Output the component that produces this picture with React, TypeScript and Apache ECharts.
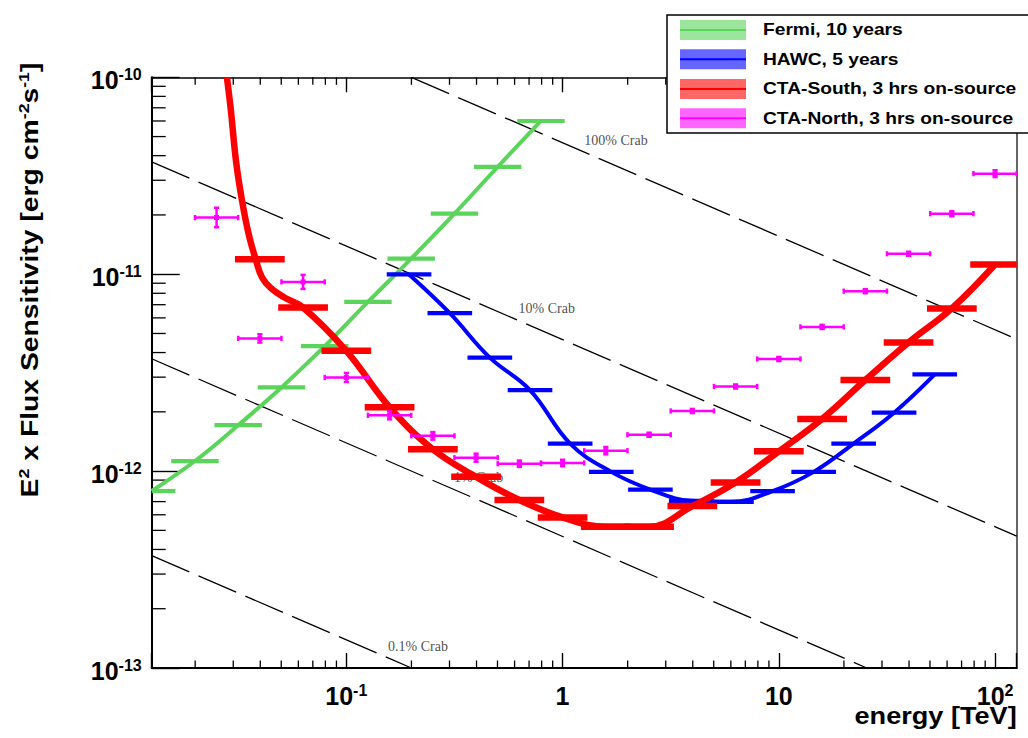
import React, { useEffect, useRef } from 'react';
import * as echarts from 'echarts';

// ---- axis ranges (log scale) ----
const X_MIN = 0.012589;
const X_MAX = 125.89;
const Y_MIN = 1e-13;
const Y_MAX = 1e-10;

// ---- Fermi, 10 years ----
const fermiEnergy = [0.01259, 0.01995, 0.03162, 0.05012, 0.07943, 0.1259, 0.1995, 0.3162, 0.5012, 0.7943];
const fermiSens = [7.92e-13, 1.125e-12, 1.71e-12, 2.66e-12, 4.31e-12, 7.23e-12, 1.2e-11, 2.03e-11, 3.51e-11, 6.0e-11];

// ---- HAWC, 5 years ----
const hawcEnergy = [0.195, 0.301, 0.461, 0.707, 1.084, 1.679, 2.547, 3.936, 6.039, 9.354, 14.49, 22.18, 34.12, 52.6];
const hawcSens = [9.97e-12, 6.34e-12, 3.77e-12, 2.58e-12, 1.38e-12, 9.91e-13, 8.06e-13, 7.06e-13, 6.98e-13, 7.91e-13, 9.91e-13, 1.38e-12, 1.98e-12, 3.1e-12];

// ---- CTA-South, 3 hrs ----
const ctaSouthEnergy = [0.03981, 0.0631, 0.1, 0.1585, 0.2512, 0.3981, 0.631, 1, 1.585, 2.512, 3.981, 6.31, 10, 15.85, 25.12, 39.81, 63.1, 100];
const ctaSouthSens = [1.19e-11, 6.78e-12, 4.08e-12, 2.11e-12, 1.29e-12, 9.35e-13, 7.13e-13, 5.82e-13, 5.21e-13, 5.21e-13, 6.64e-13, 8.75e-13, 1.26e-12, 1.84e-12, 2.9e-12, 4.5e-12, 6.7e-12, 1.12e-11];
// low-energy rise of the CTA-South curve (before the second bin)
const ctaSouthLeadEnergy = [0.02804, 0.02925, 0.03086, 0.0329, 0.03543, 0.03819, 0.04072, 0.04481, 0.05146];
const ctaSouthLeadSens = [1e-10, 6.8e-11, 3.79e-11, 2.38e-11, 1.58e-11, 1.18e-11, 9.66e-12, 8.49e-12, 7.64e-12];

// ---- CTA-North, 3 hrs ----
const ctaNorthEnergy = [0.02512, 0.03981, 0.0631, 0.1, 0.1585, 0.2512, 0.3981, 0.631, 1, 1.585, 2.512, 3.981, 6.31, 10, 15.85, 25.12, 39.81, 63.1, 100];
const ctaNorthSens = [1.94e-11, 4.72e-12, 9.14e-12, 2.99e-12, 1.92e-12, 1.51e-12, 1.17e-12, 1.09e-12, 1.1e-12, 1.27e-12, 1.53e-12, 2.02e-12, 2.69e-12, 3.71e-12, 5.4e-12, 8.2e-12, 1.27e-11, 2.03e-11, 3.24e-11];
const ctaNorthRelErr = [0.12, 0.05, 0.085, 0.054, 0.048, 0.045, 0.048, 0.038, 0.038, 0.044, 0.024, 0.024, 0.024, 0.024, 0.024, 0.024, 0.024, 0.03, 0.04];

// ---- Crab reference lines ----
const crabNames = ['100% Crab', '10% Crab', '1% Crab', '0.1% Crab'];
const crabLineEnergy = [[0.2, 125.89], [0.012589, 125.89], [0.012589, 25.5], [0.012589, 0.2]];
const crabLineSens = [[1e-10, 4.68e-12], [3.72e-11, 4.68e-13], [3.72e-12, 1e-13], [3.72e-13, 1e-13]];
const crabLabelEnergy = [1.767, 0.845, 0.409, 0.2144];
const crabLabelSens = [4.75e-11, 6.7e-12, 9.25e-13, 1.28e-13];

// ---- bin half-widths (decades) ----
const FERMI_HALF = 0.1;
const HAWC_HALF = 0.0935;
const CTA_HALF = 0.1;

const legendNames = ['Fermi, 10 years', 'HAWC, 5 years', 'CTA-South, 3 hrs on-source', 'CTA-North, 3 hrs on-source'];
const GREEN = '#5ad45a';
const BLUE = '#0000ff';
const RED = '#ff0000';
const MAGENTA = '#ff00ff';
const legendColors = [GREEN, BLUE, RED, MAGENTA];

const SANS = '"Liberation Sans", Arial, Helvetica, sans-serif';
const SERIF = '"Liberation Serif", "Times New Roman", serif';

// minor tick positions of the log axes (2..9 x 10^n)
const xMinorTicks: number[] = [];
for (let n = -2; n <= 2; n++) for (let k = 2; k <= 9; k++) {
  const v = k * Math.pow(10, n);
  if (v > X_MIN && v < X_MAX) xMinorTicks.push(v);
}
const yMinorTicks: number[] = [];
for (let n = -13; n <= -11; n++) for (let k = 2; k <= 9; k++) yMinorTicks.push(k * Math.pow(10, n));

const zip = (a: number[], b: number[]) => a.map((v, i) => [v, b[i]]);

function barRenderer(color: string, width: number, halfDec: number) {
  const f = Math.pow(10, halfDec);
  return (params: any, api: any) => {
    const e = api.value(0);
    const s = api.value(1);
    const cs = params.coordSys;
    const a = api.coord([e / f, s]);
    const b = api.coord([e * f, s]);
    let x1 = a[0];
    let x2 = b[0];
    if (x1 < cs.x) x1 = cs.x + width / 2;
    if (x2 > cs.x + cs.width) x2 = cs.x + cs.width - width / 2;
    return {
      type: 'line',
      shape: { x1, y1: a[1], x2, y2: a[1] },
      style: { stroke: color, lineWidth: width, lineCap: 'square' },
    };
  };
}

function northRenderer(params: any, api: any) {
  const e = api.value(0);
  const s = api.value(1);
  const r = api.value(2);
  const f = Math.pow(10, CTA_HALF);
  const c = api.coord([e, s]);
  const a = api.coord([e / f, s]);
  const b = api.coord([e * f, s]);
  const lo = api.coord([e, s / (1 + r)]);
  const hi = api.coord([e, s * (1 + r)]);
  const st = { stroke: MAGENTA, lineWidth: 2.5 };
  const cap = 2.6;
  return {
    type: 'group',
    children: [
      { type: 'line', shape: { x1: a[0], y1: c[1], x2: b[0], y2: c[1] }, style: st },
      { type: 'line', shape: { x1: a[0], y1: c[1] - cap, x2: a[0], y2: c[1] + cap }, style: st },
      { type: 'line', shape: { x1: b[0], y1: c[1] - cap, x2: b[0], y2: c[1] + cap }, style: st },
      { type: 'line', shape: { x1: c[0], y1: lo[1], x2: c[0], y2: hi[1] }, style: st },
      { type: 'line', shape: { x1: c[0] - cap, y1: lo[1], x2: c[0] + cap, y2: lo[1] }, style: st },
      { type: 'line', shape: { x1: c[0] - cap, y1: hi[1], x2: c[0] + cap, y2: hi[1] }, style: st },
      { type: 'rect', shape: { x: c[0] - 2.5, y: c[1] - 2.5, width: 5, height: 5 }, style: { fill: MAGENTA } },
    ],
  };
}

function xMinorRenderer(params: any, api: any) {
  const v = api.value(0);
  const b = api.coord([v, Y_MIN]);
  const t = api.coord([v, Y_MAX]);
  const st = { stroke: '#000', lineWidth: 1.3 };
  return {
    type: 'group',
    children: [
      { type: 'line', shape: { x1: b[0], y1: b[1], x2: b[0], y2: b[1] - 7.5 }, style: st },
      { type: 'line', shape: { x1: t[0], y1: t[1], x2: t[0], y2: t[1] + 7.5 }, style: st },
    ],
  };
}

function yMinorRenderer(params: any, api: any) {
  const v = api.value(1);
  const p = api.coord([X_MIN, v]);
  return {
    type: 'line',
    shape: { x1: p[0], y1: p[1], x2: p[0] + 14, y2: p[1] },
    style: { stroke: '#000', lineWidth: 1.3 },
  };
}

const isPow10 = (v: number) => Math.abs(Math.log10(v) - Math.round(Math.log10(v))) < 1e-6;

const tickRich = {
  b: { fontSize: 25, fontWeight: 'bold', fontFamily: SANS, color: '#000', lineHeight: 27 },
  s: { fontSize: 16, fontWeight: 'bold', fontFamily: SANS, color: '#000', lineHeight: 18, verticalAlign: 'top' },
};

const xFmt = (v: number) => {
  if (!isPow10(v)) return '';
  const e = Math.round(Math.log10(v));
  if (e === 0) return '{b|1}';
  if (e === 1) return '{b|10}';
  return `{b|10}{s|${e}}`;
};
const yFmt = (v: number) => {
  if (!isPow10(v)) return '';
  const e = Math.round(Math.log10(v));
  return `{b|10}{s|${e}}`;
};

export default function App() {
  const ref = useRef<HTMLDivElement>(null);

  useEffect(() => {
    if (!ref.current) return;
    const chart = echarts.init(ref.current, undefined, { renderer: 'svg' });

    const legendGraphics: any[] = [
      {
        type: 'rect',
        shape: { x: 667, y: 15, width: 420, height: 118 },
        style: { fill: '#fff', stroke: '#000', lineWidth: 1.5 },
        z: 100,
      },
    ];
    const legendY = [30, 59.3, 89, 118.3];
    legendNames.forEach((name, i) => {
      legendGraphics.push({
        type: 'rect',
        shape: { x: 680, y: legendY[i] - 10, width: 66, height: 20 },
        style: { fill: legendColors[i], opacity: 0.6 },
        z: 101,
      });
      legendGraphics.push({
        type: 'line',
        shape: { x1: 680, y1: legendY[i], x2: 746, y2: legendY[i] },
        style: { stroke: legendColors[i], lineWidth: 2 },
        z: 102,
      });
      legendGraphics.push({
        type: 'text',
        x: 763,
        y: legendY[i],
        scaleX: 1.2,
        style: {
          text: name,
          fontFamily: SANS,
          fontWeight: 'bold',
          fontSize: 16,
          fill: '#000',
          align: 'left',
          verticalAlign: 'middle',
        },
        z: 102,
      });
    });

    const option: any = {
      animation: false,
      backgroundColor: '#fff',
      grid: {
        left: 151.7,
        right: 11.3,
        top: 77.3,
        bottom: 70,
        containLabel: false,
        outerBoundsMode: 'none',
        show: false,
      },
      xAxis: [
        {
          type: 'log',
          logBase: 10,
          min: X_MIN,
          max: X_MAX,
          position: 'bottom',
          axisLine: { show: true, lineStyle: { color: '#000', width: 2 } },
          axisTick: { show: true, inside: true, length: 15, lineStyle: { color: '#000', width: 1.4 } },
          axisLabel: { show: true, formatter: xFmt, rich: tickRich, margin: 14 },
          splitLine: { show: false },
          minorTick: { show: false },
        },
        {
          type: 'log',
          logBase: 10,
          min: X_MIN,
          max: X_MAX,
          position: 'top',
          axisLine: { show: true, lineStyle: { color: '#000', width: 1.5 } },
          axisTick: { show: true, inside: true, length: 15, lineStyle: { color: '#000', width: 1.4 } },
          axisLabel: { show: false },
          splitLine: { show: false },
        },
      ],
      yAxis: [
        {
          type: 'log',
          logBase: 10,
          min: Y_MIN,
          max: Y_MAX,
          position: 'left',
          axisLine: { show: true, lineStyle: { color: '#000', width: 2 } },
          axisTick: { show: true, inside: true, length: 28, lineStyle: { color: '#000', width: 1.4 } },
          axisLabel: { show: true, formatter: yFmt, rich: tickRich, margin: 10, padding: [6, 0, 0, 0] },
          splitLine: { show: false },
          minorTick: { show: false },
        },
        {
          type: 'log',
          logBase: 10,
          min: Y_MIN,
          max: Y_MAX,
          position: 'right',
          axisLine: { show: true, lineStyle: { color: '#333', width: 1.5 } },
          axisTick: { show: false },
          axisLabel: { show: false },
          splitLine: { show: false },
        },
      ],
      graphic: [
        {
          type: 'text',
          x: 30,
          y: 280,
          rotation: Math.PI / 2,
          scaleX: 1.18,
          style: {
            text: '{b|E}{s|2}{b| x Flux Sensitivity [erg cm}{s|-2}{b|s}{s|-1}{b|]}',
            rich: {
              b: { fontSize: 24, fontWeight: 'bold', fontFamily: SANS, fill: '#000', lineHeight: 28 },
              s: { fontSize: 15, fontWeight: 'bold', fontFamily: SANS, fill: '#000', lineHeight: 17, verticalAlign: 'top' },
            },
            align: 'center',
            verticalAlign: 'middle',
          },
        },
        {
          type: 'text',
          x: 1016.7,
          y: 716,
          scaleX: 1.13,
          style: {
            text: 'energy [TeV]',
            fontFamily: SANS,
            fontWeight: 'bold',
            fontSize: 24,
            fill: '#000',
            align: 'right',
            verticalAlign: 'middle',
          },
        },
        ...legendGraphics,
      ],
      series: [
        // minor ticks
        {
          type: 'custom',
          silent: true,
          renderItem: xMinorRenderer,
          data: xMinorTicks.map((v) => [v, 1e-12]),
          z: 1,
        },
        {
          type: 'custom',
          silent: true,
          renderItem: yMinorRenderer,
          data: yMinorTicks.map((v) => [1, v]),
          z: 1,
        },
        // Crab reference lines
        ...crabNames.map((name, i) => ({
          type: 'line',
          name,
          silent: true,
          symbol: 'none',
          data: zip(crabLineEnergy[i], crabLineSens[i]),
          lineStyle: { color: '#000', width: 1.3, type: [41, 10] },
          z: 2,
        })),
        {
          type: 'scatter',
          silent: true,
          symbolSize: 1,
          itemStyle: { color: 'transparent' },
          data: crabNames.map((n, i) => ({ name: n, value: [crabLabelEnergy[i], crabLabelSens[i]] })),
          label: {
            show: true,
            position: 'inside',
            formatter: '{b}',
            color: '#222',
            fontFamily: SERIF,
            fontSize: 14,
          },
          z: 2,
        },
        // Fermi
        {
          type: 'line',
          name: legendNames[0],
          symbol: 'none',
          smooth: 0.4,
          data: zip(fermiEnergy, fermiSens),
          lineStyle: { color: GREEN, width: 4 },
          z: 3,
        },
        {
          type: 'custom',
          clip: true,
          renderItem: barRenderer(GREEN, 4.2, FERMI_HALF),
          data: zip(fermiEnergy, fermiSens),
          z: 3,
        },
        // HAWC
        {
          type: 'line',
          name: legendNames[1],
          symbol: 'none',
          smooth: 0.4,
          data: zip(hawcEnergy, hawcSens),
          lineStyle: { color: BLUE, width: 4 },
          z: 4,
        },
        {
          type: 'custom',
          clip: true,
          renderItem: barRenderer(BLUE, 4.2, HAWC_HALF),
          data: zip(hawcEnergy, hawcSens),
          z: 4,
        },
        // CTA-South
        {
          type: 'line',
          name: legendNames[2],
          symbol: 'none',
          smooth: 0.4,
          data: zip(ctaSouthLeadEnergy, ctaSouthLeadSens).concat(zip(ctaSouthEnergy, ctaSouthSens).slice(1)),
          lineStyle: { color: RED, width: 6.5 },
          z: 5,
        },
        {
          type: 'custom',
          clip: true,
          renderItem: barRenderer(RED, 6.5, CTA_HALF),
          data: zip(ctaSouthEnergy, ctaSouthSens),
          z: 5,
        },
        // CTA-North
        {
          type: 'custom',
          name: legendNames[3],
          clip: true,
          renderItem: northRenderer,
          data: ctaNorthEnergy.map((e, i) => [e, ctaNorthSens[i], ctaNorthRelErr[i]]),
          z: 6,
        },
      ],
    };

    chart.setOption(option);
    return () => {
      chart.dispose();
    };
  }, []);

  return (
    <div
      ref={ref}
      style={{ position: 'fixed', left: 0, top: 0, width: 1028, height: 738, background: '#fff' }}
    />
  );
}
